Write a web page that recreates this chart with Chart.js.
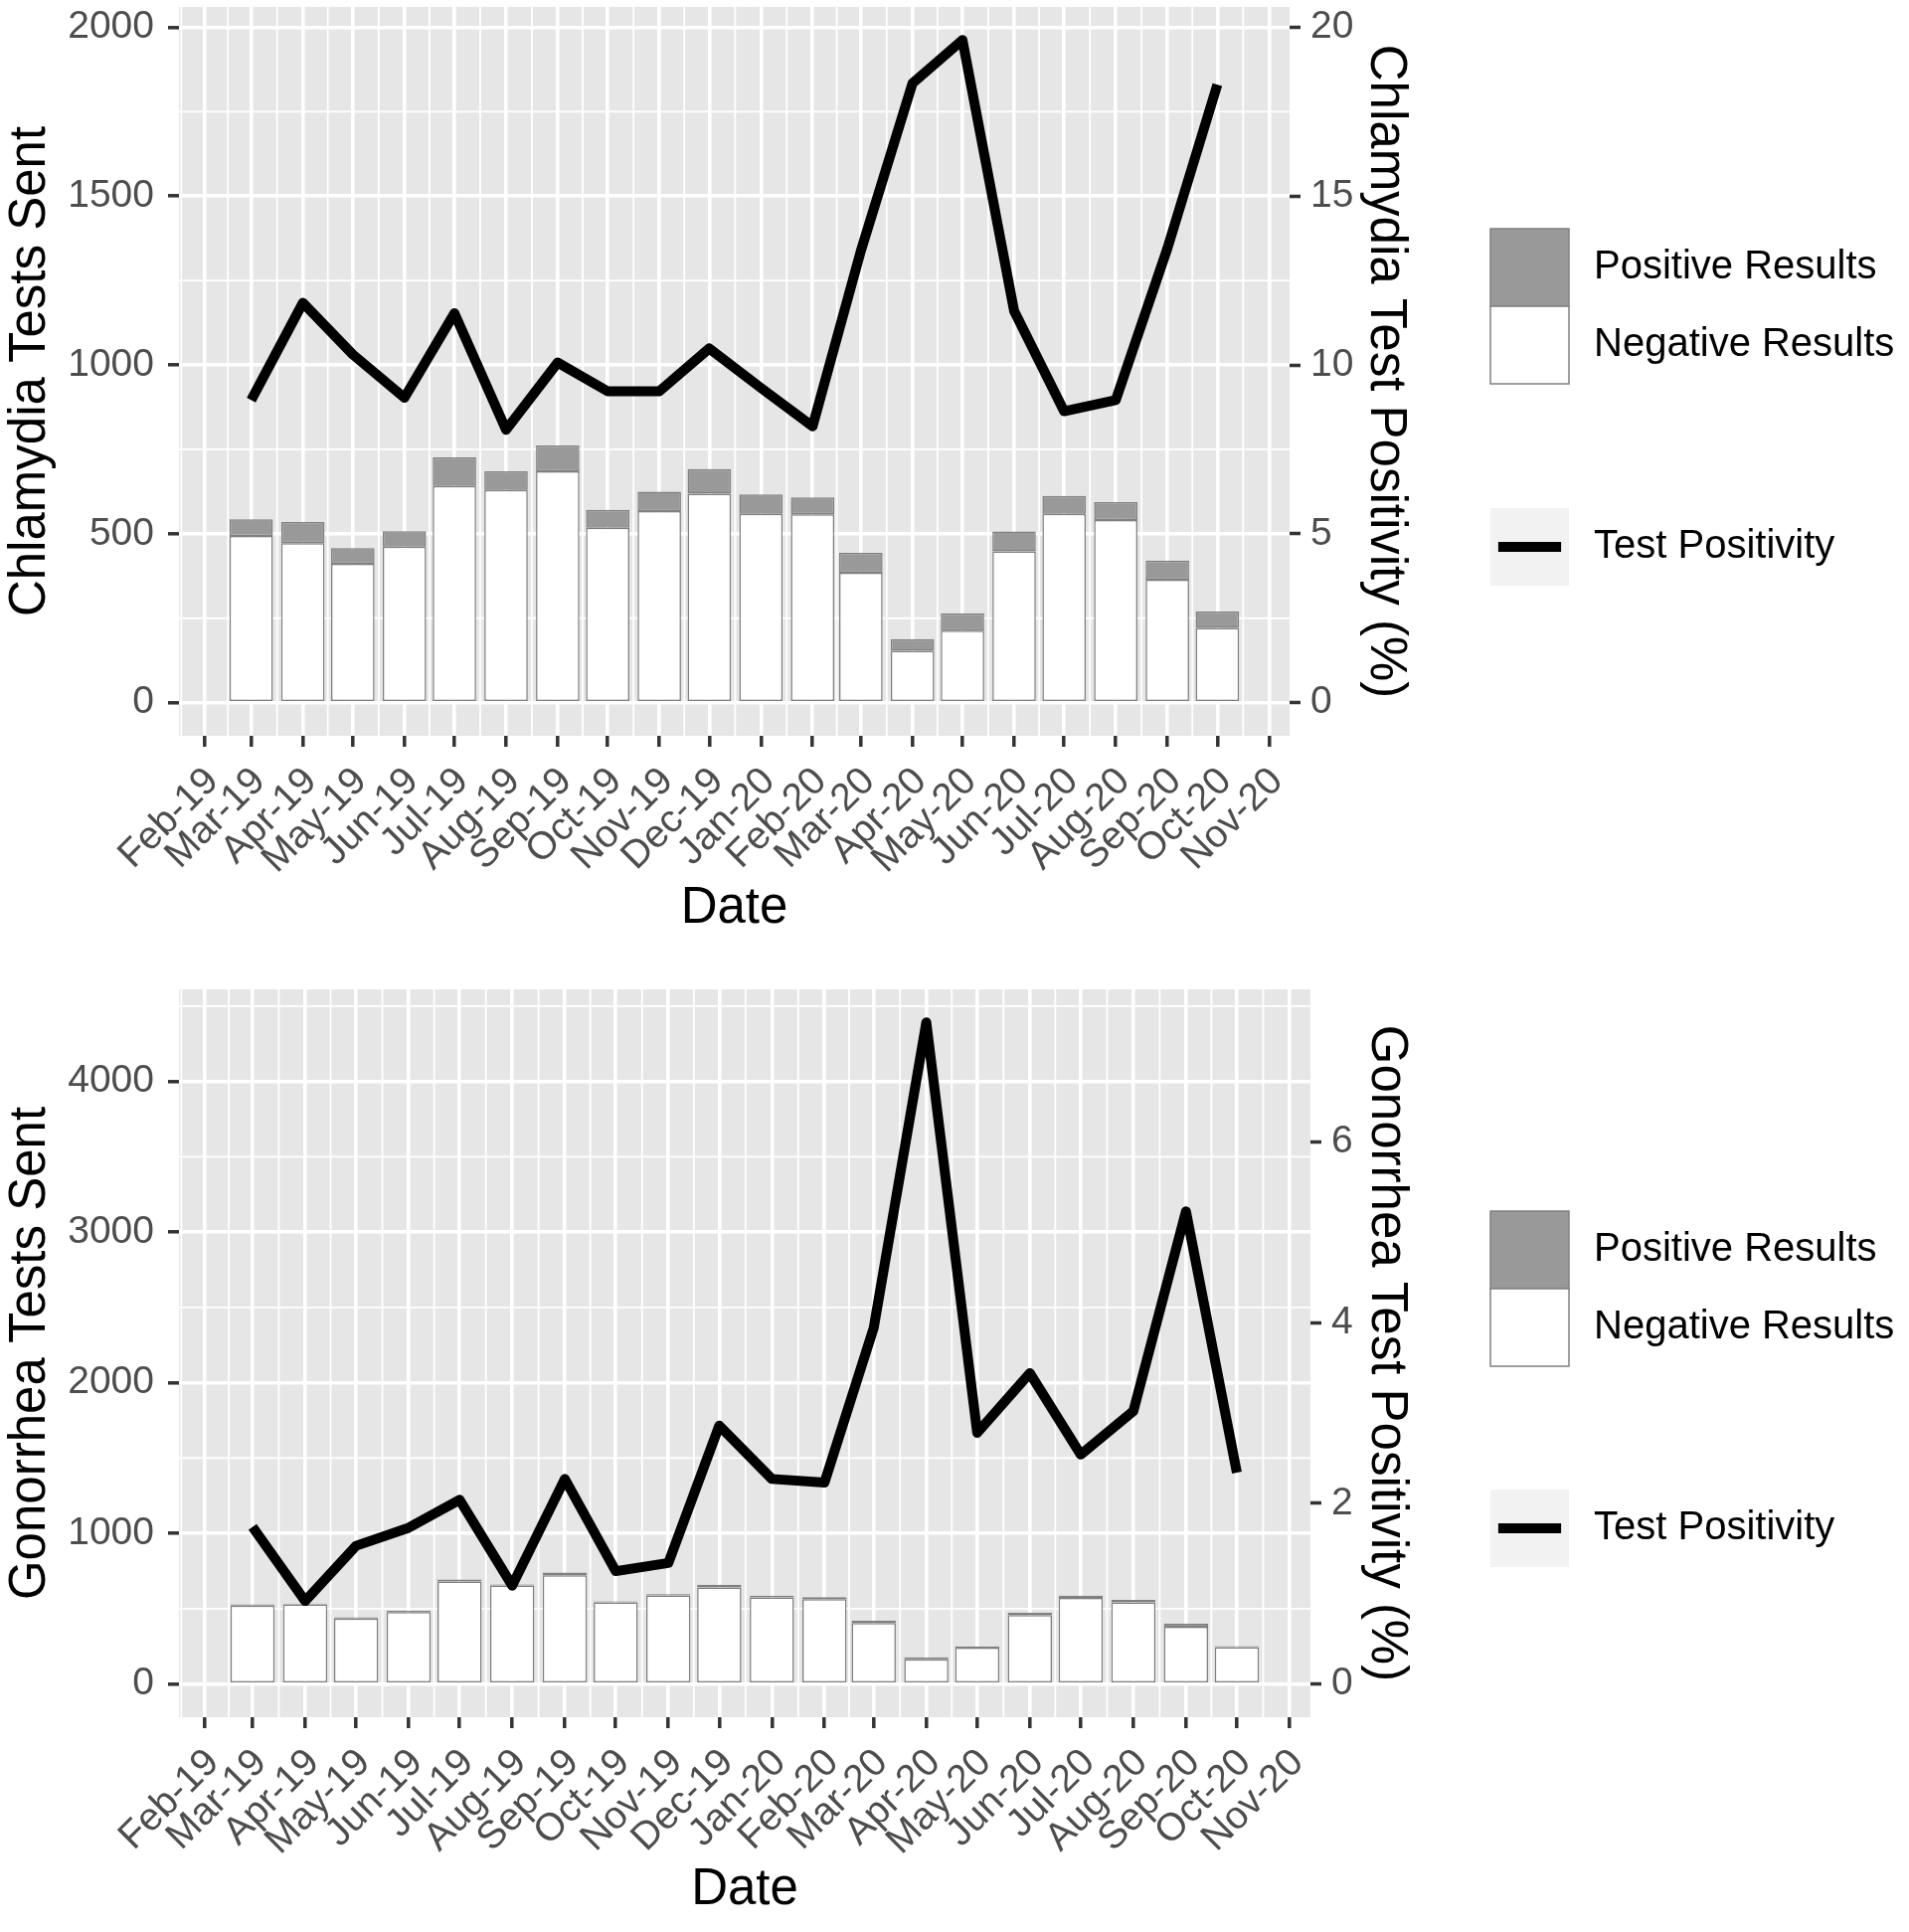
<!DOCTYPE html>
<html>
<head>
<meta charset="utf-8">
<script src="https://cdn.jsdelivr.net/npm/chart.js@4.4.1/dist/chart.umd.min.js"></script>
<style>
  html, body { margin: 0; padding: 0; background: #fff; }
  #wrap { position: relative; width: 1920px; height: 1943px; }
  canvas { position: absolute; left: 0; }
  #topChart { top: 0; }
  #bottomChart { top: 965px; }
</style>
</head>
<body>
<div id="wrap">
  <canvas id="topChart" width="1920" height="965"></canvas>
  <canvas id="bottomChart" width="1920" height="978"></canvas>
</div>
<script>
// date axis tick labels (first of each month)
const tickMonths = ['Feb-19', 'Mar-19', 'Apr-19', 'May-19', 'Jun-19', 'Jul-19', 'Aug-19', 'Sep-19',
  'Oct-19', 'Nov-19', 'Dec-19', 'Jan-20', 'Feb-20', 'Mar-20', 'Apr-20', 'May-20', 'Jun-20',
  'Jul-20', 'Aug-20', 'Sep-20', 'Oct-20', 'Nov-20'];

// months with results
const testMonths = ['Mar-19', 'Apr-19', 'May-19', 'Jun-19', 'Jul-19', 'Aug-19', 'Sep-19', 'Oct-19',
  'Nov-19', 'Dec-19', 'Jan-20', 'Feb-20', 'Mar-20', 'Apr-20', 'May-20', 'Jun-20', 'Jul-20',
  'Aug-20', 'Sep-20', 'Oct-20'];

// chlamydia
const chlamydiaNegative = [494, 472, 411, 462, 642, 630, 685, 518, 567, 619, 559, 558, 385, 154, 213, 448, 559, 541, 364, 221];
const chlamydiaPositive = [49, 63, 47, 46, 84, 55, 77, 53, 58, 73, 58, 50, 59, 34, 52, 59, 53, 53, 57, 49];
const chlamydiaPositivity = [8.96, 11.84, 10.31, 9.03, 11.53, 8.08, 10.07, 9.22, 9.22, 10.49, 9.32, 8.18, 13.38, 18.34, 19.62, 11.6, 8.63, 8.96, 13.45, 18.3];

// gonorrhea
const gonorrheaNegative = [521, 530, 436, 479, 681, 655, 723, 542, 589, 641, 575, 564, 405, 165, 243, 459, 573, 543, 381, 246];
const gonorrheaPositive = [9, 5, 7, 8, 14, 7, 17, 7, 8, 19, 13, 13, 17, 13, 7, 16, 15, 17, 21, 6];
const gonorrheaPositivity = [1.74, 0.92, 1.53, 1.73, 2.04, 1.09, 2.27, 1.25, 1.34, 2.86, 2.27, 2.23, 3.94, 7.32, 2.78, 3.44, 2.54, 3.02, 5.23, 2.34];

// axis ticks
const chlamydiaCountTicks = [0, 500, 1000, 1500, 2000];
const chlamydiaPctTicks = [0, 5, 10, 15, 20];
const gonorrheaCountTicks = [0, 1000, 2000, 3000, 4000];
const gonorrheaPctTicks = [0, 2, 4, 6];

Chart.defaults.font.family = "'Liberation Sans', Arial, Helvetica, sans-serif";

const MON = ['Jan', 'Feb', 'Mar', 'Apr', 'May', 'Jun', 'Jul', 'Aug', 'Sep', 'Oct', 'Nov', 'Dec'];
function dayOf(label) {
  const m = MON.indexOf(label.slice(0, 3));
  const y = 2000 + Number(label.slice(4));
  return (Date.UTC(y, m, 1) - Date.UTC(2019, 1, 1)) / 86400000;
}

const tickDays = tickMonths.map(dayOf);
const testDays = testMonths.map(dayOf);

// x limits like ggplot: bar width 0.9 * resolution, then 5% expansion
let minGap = Infinity;
for (let i = 1; i < testDays.length; i++) minGap = Math.min(minGap, testDays[i] - testDays[i - 1]);
const halfBar = 0.45 * minGap;
const xLo = testDays[0] - halfBar, xHi = testDays[testDays.length - 1] + halfBar;
const xMin = xLo - 0.05 * (xHi - xLo), xMax = xHi + 0.05 * (xHi - xLo);

function minorOf(major, lo, hi) {
  const out = [];
  const step0 = major[1] - major[0], stepN = major[major.length - 1] - major[major.length - 2];
  out.push(major[0] - step0 / 2);
  for (let i = 1; i < major.length; i++) out.push((major[i] + major[i - 1]) / 2);
  out.push(major[major.length - 1] + stepN / 2);
  return out.filter(v => v > lo && v < hi);
}

// panel background + minor grid
const panelBackground = {
  id: 'panelBackground',
  beforeDraw(chart, args, opts) {
    const { ctx, chartArea: a, scales } = chart;
    ctx.save();
    ctx.fillStyle = '#E6E6E6';
    ctx.fillRect(a.left, a.top, a.width, a.height);
    ctx.strokeStyle = '#FFFFFF';
    ctx.lineWidth = 1.8;
    ctx.beginPath();
    opts.xMinor.forEach(v => {
      const px = scales.x.getPixelForValue(v);
      ctx.moveTo(px, a.top); ctx.lineTo(px, a.bottom);
    });
    opts.yMinor.forEach(v => {
      const py = scales.y.getPixelForValue(v);
      ctx.moveTo(a.left, py); ctx.lineTo(a.right, py);
    });
    ctx.stroke();
    ctx.restore();
  }
};

// ggplot style legend on the right
const sideLegend = {
  id: 'sideLegend',
  afterDraw(chart, args, o) {
    const ctx = chart.ctx;
    const w = 79, h = 78;
    ctx.save();
    ctx.lineWidth = 1.5;
    ctx.strokeStyle = '#808080';
    ctx.fillStyle = '#999999';
    ctx.fillRect(o.x, o.fillTop, w, h);
    ctx.strokeRect(o.x, o.fillTop, w, h);
    ctx.fillStyle = '#FFFFFF';
    ctx.fillRect(o.x, o.fillTop + h, w, h);
    ctx.strokeRect(o.x, o.fillTop + h, w, h);

    ctx.fillStyle = '#F2F2F2';
    ctx.fillRect(o.x, o.lineTop, w, h);
    ctx.strokeStyle = '#000000';
    ctx.lineWidth = 10;
    ctx.lineCap = 'butt';
    ctx.beginPath();
    ctx.moveTo(o.x + 0.1 * w, o.lineTop + h / 2);
    ctx.lineTo(o.x + 0.9 * w, o.lineTop + h / 2);
    ctx.stroke();

    ctx.fillStyle = '#000000';
    ctx.font = "40px 'Liberation Sans', Arial, sans-serif";
    ctx.textBaseline = 'middle';
    ctx.textAlign = 'left';
    const tx = o.x + w + 25;
    ctx.fillText('Positive Results', tx, o.fillTop + h / 2);
    ctx.fillText('Negative Results', tx, o.fillTop + 1.5 * h);
    ctx.fillText('Test Positivity', tx, o.lineTop + h / 2);
    ctx.restore();
  }
};

function buildPanel(id, d, L) {
  let top = 0;
  for (let i = 0; i < testDays.length; i++) {
    top = Math.max(top, d.negative[i] + d.positive[i], d.positivity[i] * d.pctScale);
  }
  const yMin = -0.05 * top, yMax = 1.05 * top;
  const tickFont = { size: 39 };
  const titleFont = { size: 51 };

  return new Chart(document.getElementById(id), {
    type: 'bar',
    data: {
      datasets: [
        {
          type: 'line',
          label: 'Test Positivity',
          yAxisID: 'y2',
          order: 0,
          data: testDays.map((x, i) => ({ x: x, y: d.positivity[i] })),
          borderColor: '#000000',
          borderWidth: 10,
          borderJoinStyle: 'round',
          borderCapStyle: 'butt',
          pointRadius: 0,
          tension: 0,
          fill: false
        },
        {
          label: 'Negative Results',
          stack: 'tests',
          order: 1,
          data: testDays.map((x, i) => ({ x: x, y: d.negative[i] })),
          backgroundColor: '#FFFFFF',
          borderColor: '#808080',
          borderWidth: 1.5,
          borderSkipped: false,
          barPercentage: 0.93,
          categoryPercentage: 1
        },
        {
          label: 'Positive Results',
          stack: 'tests',
          order: 1,
          data: testDays.map((x, i) => ({ x: x, y: d.positive[i] })),
          backgroundColor: '#999999',
          borderColor: '#808080',
          borderWidth: 1.5,
          borderSkipped: false,
          barPercentage: 0.93,
          categoryPercentage: 1
        }
      ]
    },
    options: {
      responsive: false,
      animation: false,
      events: [],
      layout: { padding: { top: L.top, left: 0, right: L.right, bottom: 0 } },
      plugins: {
        legend: { display: false },
        tooltip: { enabled: false },
        panelBackground: {
          xMinor: minorOf(tickDays, xMin, xMax),
          yMinor: minorOf(d.countTicks, yMin, yMax)
        },
        sideLegend: { x: 1499, fillTop: L.fillTop, lineTop: L.lineTop }
      },
      scales: {
        x: {
          type: 'linear',
          min: xMin,
          max: xMax,
          offset: false,
          stacked: true,
          afterBuildTicks: s => { s.ticks = tickDays.map(v => ({ value: v })); },
          afterFit: s => { s.height = L.xAxis; s.paddingLeft = 0; s.paddingRight = 0; },
          ticks: {
            autoSkip: false, minRotation: 45, maxRotation: 45, padding: 12, labelOffset: 8,
            color: '#4D4D4D', font: tickFont,
            callback: (v, i) => tickMonths[i]
          },
          grid: { offset: false, color: '#FFFFFF', lineWidth: 3.6, tickColor: '#333333', tickLength: 11, tickWidth: 3.5 },
          border: { display: false },
          title: { display: true, text: 'Date', color: '#000000', font: titleFont, padding: { top: 0, bottom: L.datePad } }
        },
        y: {
          position: 'left',
          min: yMin,
          max: yMax,
          stacked: true,
          afterBuildTicks: s => { s.ticks = d.countTicks.map(v => ({ value: v })); },
          afterFit: s => { s.width = 180; s.paddingTop = 0; s.paddingBottom = 0; },
          ticks: { padding: 14, color: '#4D4D4D', font: tickFont, callback: v => String(v) },
          grid: { color: '#FFFFFF', lineWidth: 3.6, tickColor: '#333333', tickLength: 11, tickWidth: 3.5 },
          border: { display: false },
          title: { display: true, text: d.leftTitle, color: '#000000', font: titleFont, padding: { top: 0, bottom: 0 } }
        },
        y2: {
          position: 'right',
          min: yMin / d.pctScale,
          max: yMax / d.pctScale,
          afterBuildTicks: s => { s.ticks = d.pctTicks.map(v => ({ value: v })); },
          afterFit: s => { s.width = L.rightAxis; s.paddingTop = 0; s.paddingBottom = 0; },
          ticks: { padding: 10, color: '#4D4D4D', font: tickFont, callback: v => String(v) },
          grid: { drawOnChartArea: false, tickColor: '#333333', tickLength: 11, tickWidth: 3.5 },
          border: { display: false },
          title: { display: true, text: d.rightTitle, color: '#000000', font: titleFont, padding: { top: 3, bottom: 0 } }
        }
      }
    },
    plugins: [panelBackground, sideLegend]
  });
}

buildPanel('topChart', {
  negative: chlamydiaNegative,
  positive: chlamydiaPositive,
  positivity: chlamydiaPositivity,
  pctScale: 100,
  countTicks: chlamydiaCountTicks,
  pctTicks: chlamydiaPctTicks,
  leftTitle: 'Chlamydia Tests Sent',
  rightTitle: 'Chlamydia Test Positivity (%)'
}, { top: 7, right: 493, rightAxis: 130, xAxis: 225, datePad: 20, fillTop: 230, lineTop: 511 });

buildPanel('bottomChart', {
  negative: gonorrheaNegative,
  positive: gonorrheaPositive,
  positivity: gonorrheaPositivity,
  pctScale: 600,
  countTicks: gonorrheaCountTicks,
  pctTicks: gonorrheaPctTicks,
  leftTitle: 'Gonorrhea Tests Sent',
  rightTitle: 'Gonorrhea Test Positivity (%)'
}, { top: 30, right: 492, rightAxis: 110, xAxis: 216, datePad: 11, fillTop: 253, lineTop: 533 });
</script>
</body>
</html>
